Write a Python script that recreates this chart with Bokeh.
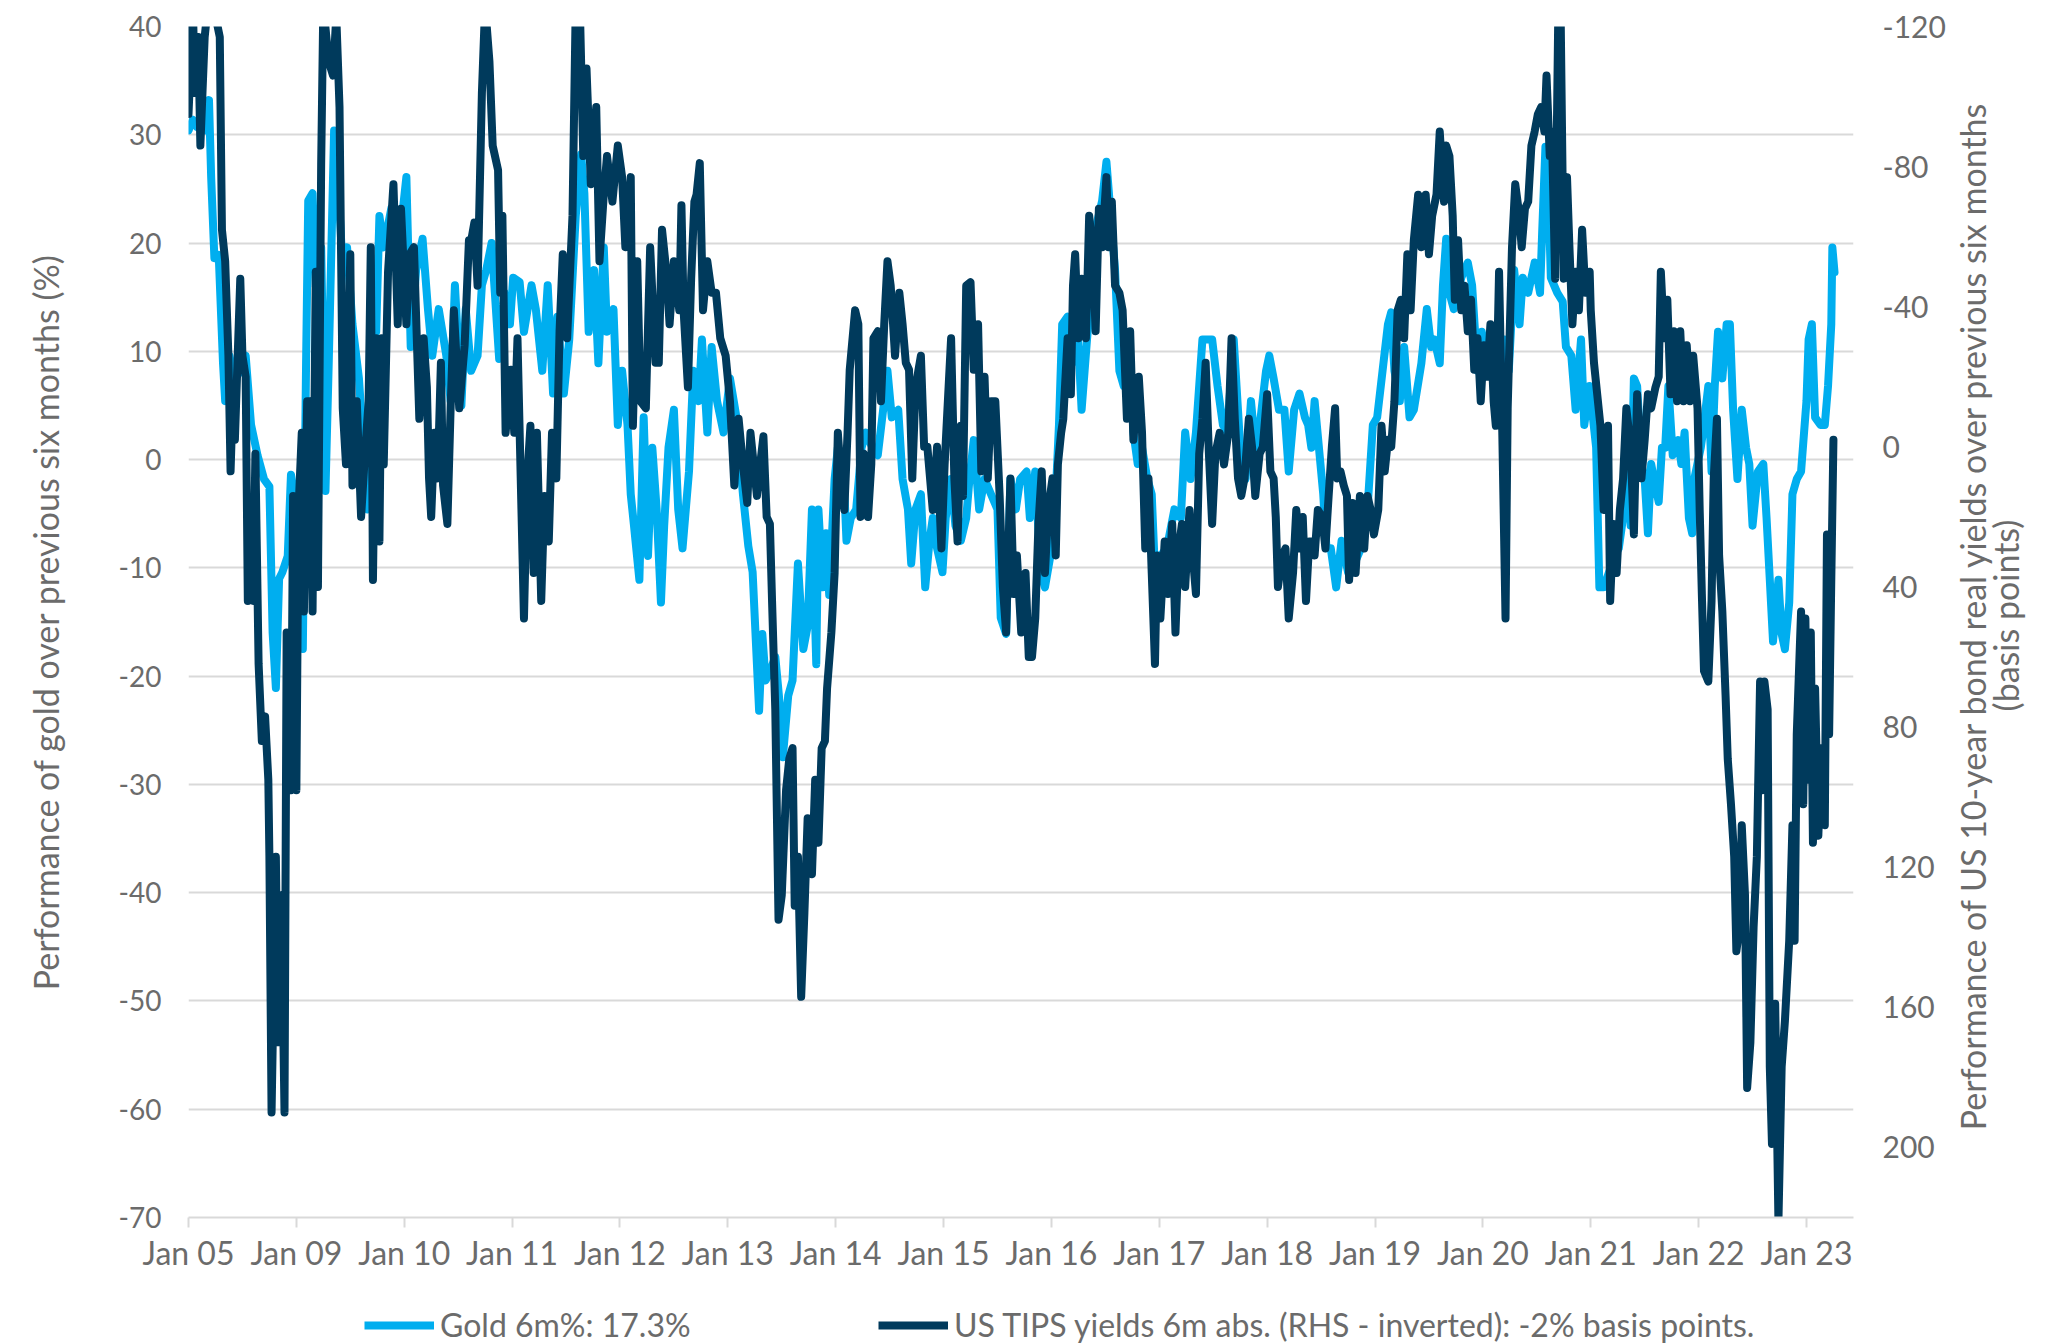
import math
from bokeh.plotting import figure
from bokeh.layouts import column, row
from bokeh.models import Range1d, LinearAxis, FixedTicker, Legend, LegendItem, Label
from bokeh.embed import file_html
from bokeh.resources import INLINE

# ---------------- data ----------------
x_tick_years = list(range(2008, 2024))
x_tick_labels = ["Jan 05", "Jan 09", "Jan 10", "Jan 11", "Jan 12", "Jan 13", "Jan 14", "Jan 15",
                 "Jan 16", "Jan 17", "Jan 18", "Jan 19", "Jan 20", "Jan 21", "Jan 22", "Jan 23"]
left_ticks = [-70, -60, -50, -40, -30, -20, -10, 0, 10, 20, 30, 40]
left_tick_labels = ["-70", "-60", "-50", "-40", "-30", "-20", "-10", "0", "10", "20", "30", "40"]
right_ticks = [-120, -80, -40, 0, 40, 80, 120, 160, 200]
right_tick_labels = ["-120", "-80", "-40", "0", "40", "80", "120", "160", "200"]

gold_years = [
    2008.00, 2008.04, 2008.08, 2008.15, 2008.19, 2008.21, 2008.24, 2008.28, 2008.32, 2008.34,
    2008.38, 2008.42, 2008.49, 2008.53, 2008.58, 2008.64, 2008.70, 2008.75, 2008.78, 2008.81,
    2008.84, 2008.87, 2008.92, 2008.95, 2008.98, 2009.03, 2009.06, 2009.09, 2009.11, 2009.15,
    2009.18, 2009.23, 2009.27, 2009.30, 2009.35, 2009.38, 2009.43, 2009.47, 2009.52, 2009.58,
    2009.66, 2009.69, 2009.74, 2009.77, 2009.81, 2009.88, 2009.95, 2010.02, 2010.06, 2010.11,
    2010.17, 2010.22, 2010.26, 2010.32, 2010.39, 2010.43, 2010.47, 2010.53, 2010.57, 2010.62,
    2010.68, 2010.72, 2010.76, 2010.81, 2010.84, 2010.88, 2010.93, 2010.98, 2011.01, 2011.07,
    2011.11, 2011.18, 2011.22, 2011.28, 2011.33, 2011.38, 2011.42, 2011.48, 2011.53, 2011.59,
    2011.64, 2011.67, 2011.71, 2011.76, 2011.80, 2011.85, 2011.88, 2011.94, 2011.98, 2012.02,
    2012.07, 2012.10, 2012.13, 2012.18, 2012.22, 2012.26, 2012.30, 2012.34, 2012.38, 2012.41,
    2012.45, 2012.50, 2012.54, 2012.58, 2012.64, 2012.68, 2012.73, 2012.76, 2012.81, 2012.85,
    2012.90, 2012.96, 2013.02, 2013.08, 2013.14, 2013.19, 2013.23, 2013.29, 2013.32, 2013.35,
    2013.39, 2013.44, 2013.48, 2013.51, 2013.56, 2013.60, 2013.65, 2013.70, 2013.74, 2013.78,
    2013.82, 2013.84, 2013.88, 2013.91, 2013.94, 2013.99, 2014.02, 2014.07, 2014.10, 2014.14,
    2014.19, 2014.24, 2014.28, 2014.34, 2014.39, 2014.44, 2014.48, 2014.52, 2014.58, 2014.62,
    2014.67, 2014.70, 2014.74, 2014.79, 2014.83, 2014.87, 2014.90, 2014.94, 2014.99, 2015.02,
    2015.07, 2015.11, 2015.16, 2015.21, 2015.24, 2015.28, 2015.33, 2015.38, 2015.44, 2015.50,
    2015.53, 2015.58, 2015.62, 2015.67, 2015.71, 2015.77, 2015.80, 2015.85, 2015.90, 2015.94,
    2015.99, 2016.04, 2016.07, 2016.10, 2016.15, 2016.19, 2016.24, 2016.28, 2016.33, 2016.38,
    2016.42, 2016.47, 2016.51, 2016.55, 2016.59, 2016.63, 2016.67, 2016.72, 2016.76, 2016.80,
    2016.84, 2016.89, 2016.93, 2016.96, 2017.01, 2017.07, 2017.14, 2017.20, 2017.24, 2017.29,
    2017.34, 2017.40, 2017.45, 2017.49, 2017.54, 2017.59, 2017.63, 2017.69, 2017.76, 2017.80,
    2017.85, 2017.89, 2017.94, 2017.99, 2018.02, 2018.06, 2018.11, 2018.16, 2018.20, 2018.25,
    2018.30, 2018.35, 2018.38, 2018.41, 2018.44, 2018.48, 2018.52, 2018.55, 2018.59, 2018.64,
    2018.69, 2018.75, 2018.81, 2018.87, 2018.93, 2018.98, 2019.02, 2019.07, 2019.12, 2019.15,
    2019.18, 2019.23, 2019.27, 2019.32, 2019.36, 2019.43, 2019.48, 2019.52, 2019.55, 2019.60,
    2019.63, 2019.66, 2019.69, 2019.73, 2019.80, 2019.86, 2019.90, 2019.95, 2019.99, 2020.04,
    2020.09, 2020.13, 2020.16, 2020.20, 2020.24, 2020.29, 2020.34, 2020.37, 2020.42, 2020.48,
    2020.53, 2020.55, 2020.58, 2020.61, 2020.63, 2020.69, 2020.74, 2020.77, 2020.82, 2020.86,
    2020.91, 2020.94, 2020.99, 2021.02, 2021.05, 2021.08, 2021.12, 2021.17, 2021.22, 2021.26,
    2021.31, 2021.34, 2021.37, 2021.40, 2021.43, 2021.47, 2021.50, 2021.53, 2021.56, 2021.60,
    2021.63, 2021.66, 2021.69, 2021.72, 2021.76, 2021.81, 2021.84, 2021.87, 2021.91, 2021.94,
    2021.96, 2022.02, 2022.04, 2022.09, 2022.12, 2022.15, 2022.18, 2022.22, 2022.26, 2022.29,
    2022.32, 2022.36, 2022.40, 2022.44, 2022.47, 2022.50, 2022.55, 2022.60, 2022.63, 2022.66,
    2022.69, 2022.74, 2022.77, 2022.80, 2022.84, 2022.87, 2022.91, 2022.95, 2023.00, 2023.02,
    2023.05, 2023.08, 2023.13, 2023.17, 2023.20, 2023.23, 2023.24, 2023.26,
]
gold_6m_pct = [
    30.4, 31.4, 30.7, 30.4, 33.2, 26.1, 18.6, 18.9, 8.9, 5.4,
    9.6, 7.5, 8.2, 9.6, 3.2, 0.4, -1.8, -2.5, -16.0, -21.1,
    -11.0, -10.4, -8.9, -1.4, -3.2, -8.9, -17.5, 8.9, 23.9, 24.6,
    16.0, 19.6, -2.9, 8.9, 30.4, 26.8, 17.5, 19.6, 12.5, 7.5,
    -4.6, 11.1, 11.8, 22.5, 19.6, 23.2, 19.6, 26.1, 10.4, 17.5,
    20.4, 13.9, 9.6, 13.9, 9.6, 5.4, 16.1, 5.0, 13.9, 8.2,
    9.6, 16.1, 17.5, 20.0, 15.4, 9.3, 15.4, 12.5, 16.8, 16.4,
    11.8, 16.1, 13.9, 8.2, 16.1, 6.1, 13.2, 6.1, 11.1, 22.5,
    28.2, 24.6, 11.8, 17.5, 8.9, 19.6, 11.8, 13.9, 3.2, 8.2,
    3.2, -3.2, -6.1, -11.1, 3.9, -8.9, 1.1, -4.6, -13.2, -6.1,
    1.1, 4.6, -4.6, -8.2, -1.1, 8.2, 5.4, 11.1, 2.5, 10.4,
    5.4, 2.5, 7.5, 3.9, -3.2, -8.0, -10.4, -23.2, -16.1, -20.4,
    -19.6, -18.2, -22.5, -27.5, -21.8, -20.4, -9.6, -17.5, -15.4, -4.6,
    -18.9, -4.6, -11.8, -6.8, -12.5, -1.8, 1.1, -0.4, -7.5, -5.4,
    -4.6, 1.1, 2.5, 1.1, 0.4, 4.6, 8.2, 3.9, 4.6, -1.8,
    -4.6, -9.6, -4.6, -3.2, -11.8, -7.5, -5.4, -8.2, -10.4, -5.4,
    -1.8, -6.1, -7.5, -5.4, -1.8, 1.8, -4.6, -1.8, -3.2, -4.6,
    -14.6, -16.1, -1.8, -4.6, -1.8, -1.1, -5.4, -1.1, -10.4, -11.8,
    -8.9, -3.2, 3.2, 12.5, 13.2, 8.9, 12.5, 4.6, 11.1, 16.8,
    21.8, 23.9, 27.5, 22.5, 17.5, 8.2, 6.8, 11.1, 2.5, -0.4,
    1.1, -1.8, -3.2, -10.4, -8.9, -8.2, -4.6, -5.4, 2.5, -1.8,
    2.5, 11.1, 11.1, 11.1, 6.8, 3.2, 2.5, 11.1, -0.4, -1.8,
    5.4, 1.1, 3.9, 8.2, 9.6, 7.5, 4.6, 4.6, -1.1, 4.6,
    6.1, 3.9, 3.2, 1.1, 5.4, 1.1, -3.2, -8.2, -8.2, -11.8,
    -7.5, -10.4, -9.6, -8.2, -4.6, 3.2, 3.9, 8.2, 12.5, 13.6,
    8.2, 5.4, 10.4, 3.9, 4.6, 8.9, 13.9, 10.4, 11.1, 8.9,
    16.1, 20.4, 15.4, 13.9, 16.8, 18.2, 16.1, 8.2, 11.8, 8.9,
    10.4, 7.5, 3.2, 11.1, 8.2, 17.5, 12.5, 16.8, 15.4, 18.2,
    15.4, 21.1, 28.9, 23.9, 16.8, 15.4, 14.6, 10.4, 9.6, 4.6,
    11.1, 3.2, 6.8, 3.9, 1.1, -11.8, -11.8, -10.4, -8.9, -8.2,
    -4.6, 1.1, -6.1, 7.5, 6.8, -0.4, -1.8, -6.8, -0.4, -2.5,
    -3.9, 1.1, 1.1, 6.8, 0.4, 1.8, -0.4, 2.5, -5.4, -6.8,
    -1.8, 1.1, 2.5, 6.8, -1.1, 6.8, 11.8, 7.5, 12.5, 12.5,
    4.6, -1.8, 4.6, 1.1, -0.4, -6.1, -1.1, -0.4, -5.4, -11.1,
    -16.8, -11.1, -16.1, -17.5, -13.2, -3.2, -1.8, -1.1, 5.4, 11.1,
    12.5, 3.9, 3.2, 3.2, 6.8, 12.5, 19.6, 17.3,
]

tips_years = [
    2008.00, 2008.02, 2008.04, 2008.06, 2008.09, 2008.11, 2008.15, 2008.18, 2008.25, 2008.29,
    2008.31, 2008.34, 2008.37, 2008.39, 2008.41, 2008.43, 2008.48, 2008.50, 2008.53, 2008.55,
    2008.57, 2008.60, 2008.62, 2008.65, 2008.68, 2008.71, 2008.74, 2008.75, 2008.77, 2008.81,
    2008.83, 2008.86, 2008.89, 2008.91, 2008.95, 2008.97, 2009.00, 2009.02, 2009.05, 2009.07,
    2009.10, 2009.13, 2009.15, 2009.18, 2009.20, 2009.23, 2009.25, 2009.30, 2009.34, 2009.37,
    2009.40, 2009.43, 2009.46, 2009.50, 2009.52, 2009.56, 2009.60, 2009.63, 2009.67, 2009.69,
    2009.71, 2009.74, 2009.77, 2009.79, 2009.81, 2009.85, 2009.90, 2009.94, 2009.97, 2010.02,
    2010.05, 2010.09, 2010.14, 2010.18, 2010.21, 2010.23, 2010.25, 2010.28, 2010.31, 2010.34,
    2010.36, 2010.40, 2010.43, 2010.46, 2010.51, 2010.56, 2010.60, 2010.61, 2010.65, 2010.68,
    2010.72, 2010.75, 2010.79, 2010.82, 2010.87, 2010.89, 2010.91, 2010.94, 2010.99, 2011.02,
    2011.05, 2011.08, 2011.11, 2011.14, 2011.17, 2011.20, 2011.23, 2011.27, 2011.30, 2011.34,
    2011.37, 2011.41, 2011.44, 2011.47, 2011.51, 2011.56, 2011.59, 2011.63, 2011.66, 2011.69,
    2011.73, 2011.78, 2011.81, 2011.85, 2011.88, 2011.93, 2011.98, 2012.02, 2012.05, 2012.10,
    2012.12, 2012.16, 2012.19, 2012.24, 2012.28, 2012.33, 2012.36, 2012.39, 2012.43, 2012.46,
    2012.50, 2012.55, 2012.57, 2012.59, 2012.63, 2012.66, 2012.69, 2012.71, 2012.74, 2012.77,
    2012.81, 2012.85, 2012.89, 2012.93, 2012.98, 2013.02, 2013.06, 2013.10, 2013.14, 2013.18,
    2013.21, 2013.24, 2013.27, 2013.30, 2013.33, 2013.36, 2013.39, 2013.41, 2013.44, 2013.47,
    2013.50, 2013.54, 2013.57, 2013.60, 2013.62, 2013.65, 2013.68, 2013.71, 2013.74, 2013.78,
    2013.81, 2013.84, 2013.87, 2013.90, 2013.92, 2013.96, 2013.99, 2014.02, 2014.05, 2014.08,
    2014.11, 2014.13, 2014.18, 2014.21, 2014.23, 2014.26, 2014.30, 2014.33, 2014.35, 2014.39,
    2014.42, 2014.45, 2014.48, 2014.51, 2014.55, 2014.59, 2014.62, 2014.65, 2014.68, 2014.71,
    2014.74, 2014.79, 2014.82, 2014.85, 2014.90, 2014.94, 2014.98, 2015.01, 2015.04, 2015.07,
    2015.10, 2015.13, 2015.16, 2015.18, 2015.21, 2015.25, 2015.28, 2015.32, 2015.35, 2015.38,
    2015.41, 2015.44, 2015.48, 2015.52, 2015.55, 2015.58, 2015.62, 2015.65, 2015.68, 2015.72,
    2015.76, 2015.79, 2015.82, 2015.85, 2015.88, 2015.91, 2015.94, 2015.97, 2016.01, 2016.04,
    2016.06, 2016.09, 2016.11, 2016.15, 2016.18, 2016.20, 2016.22, 2016.25, 2016.28, 2016.32,
    2016.35, 2016.38, 2016.41, 2016.44, 2016.47, 2016.51, 2016.53, 2016.56, 2016.59, 2016.63,
    2016.66, 2016.70, 2016.73, 2016.76, 2016.81, 2016.84, 2016.87, 2016.90, 2016.93, 2016.96,
    2016.98, 2017.01, 2017.05, 2017.08, 2017.12, 2017.15, 2017.18, 2017.21, 2017.24, 2017.28,
    2017.31, 2017.34, 2017.37, 2017.40, 2017.43, 2017.46, 2017.49, 2017.52, 2017.56, 2017.60,
    2017.64, 2017.67, 2017.70, 2017.73, 2017.76, 2017.79, 2017.83, 2017.86, 2017.89, 2017.93,
    2017.96, 2018.00, 2018.03, 2018.06, 2018.08, 2018.10, 2018.14, 2018.17, 2018.20, 2018.24,
    2018.27, 2018.30, 2018.33, 2018.36, 2018.39, 2018.41, 2018.44, 2018.47, 2018.51, 2018.54,
    2018.57, 2018.60, 2018.63, 2018.65, 2018.68, 2018.71, 2018.74, 2018.76, 2018.79, 2018.82,
    2018.86, 2018.90, 2018.93, 2018.96, 2018.99, 2019.03, 2019.06, 2019.09, 2019.12, 2019.15,
    2019.18, 2019.21, 2019.24, 2019.27, 2019.30, 2019.33, 2019.36, 2019.40, 2019.43, 2019.47,
    2019.50, 2019.53, 2019.57, 2019.60, 2019.64, 2019.66, 2019.69, 2019.72, 2019.74, 2019.77,
    2019.80, 2019.83, 2019.86, 2019.89, 2019.92, 2019.95, 2019.98, 2020.01, 2020.04, 2020.07,
    2020.10, 2020.12, 2020.15, 2020.18, 2020.21, 2020.23, 2020.27, 2020.30, 2020.33, 2020.36,
    2020.39, 2020.42, 2020.45, 2020.48, 2020.51, 2020.54, 2020.57, 2020.59, 2020.62, 2020.64,
    2020.67, 2020.69, 2020.70, 2020.72, 2020.75, 2020.78, 2020.80, 2020.83, 2020.86, 2020.89,
    2020.92, 2020.95, 2020.99, 2021.00, 2021.03, 2021.06, 2021.09, 2021.12, 2021.16, 2021.18,
    2021.21, 2021.24, 2021.27, 2021.30, 2021.33, 2021.37, 2021.40, 2021.43, 2021.47, 2021.50,
    2021.53, 2021.56, 2021.60, 2021.63, 2021.65, 2021.68, 2021.71, 2021.74, 2021.77, 2021.80,
    2021.83, 2021.86, 2021.89, 2021.92, 2021.95, 2021.99, 2022.01, 2022.03, 2022.05, 2022.09,
    2022.12, 2022.14, 2022.17, 2022.19, 2022.22, 2022.25, 2022.27, 2022.30, 2022.33, 2022.35,
    2022.38, 2022.40, 2022.43, 2022.45, 2022.48, 2022.51, 2022.54, 2022.57, 2022.59, 2022.61,
    2022.64, 2022.66, 2022.68, 2022.71, 2022.74, 2022.77, 2022.80, 2022.84, 2022.87, 2022.89,
    2022.91, 2022.95, 2022.97, 2022.99, 2023.01, 2023.04, 2023.06, 2023.08, 2023.11, 2023.14,
    2023.17, 2023.19, 2023.21, 2023.23, 2023.25,
]
tips_6m_bp = [
    -95, -110, -126, -101, -117, -86, -117, -126, -123, -117,
    -62, -53, -26, 7, -13, -2, -48, -26, -20, 44,
    18, 44, 2, 62, 84, 77, 95, 117, 190, 117,
    170, 128, 190, 53, 98, 14, 98, 18, -4, 47,
    -13, -13, 47, -50, 40, -81, -126, -110, -106, -123,
    -97, -11, 5, -55, 11, -13, 20, 5, -13, -57,
    38, -31, 27, -31, 5, -50, -75, -35, -68, -35,
    -55, -57, -8, -31, -17, 9, 20, -4, 9, -24,
    11, 22, -11, -39, -11, -29, -59, -57, -64, -46,
    -101, -126, -110, -86, -79, -44, -66, -4, -22, -4,
    -31, 9, 49, 9, -6, 36, -4, 44, 14, 27,
    -4, 9, -33, -55, -31, -66, -126, -123, -83, -108,
    -75, -97, -53, -72, -83, -70, -86, -77, -57, -77,
    -6, -53, -13, -11, -57, -24, -24, -62, -50, -35,
    -53, -39, -69, -39, -17, -48, -70, -72, -81, -39,
    -53, -44, -44, -31, -26, -13, 11, -8, 5, 16,
    -4, 5, 14, 5, -3, 20, 22, 44, 75, 135,
    128, 98, 89, 86, 131, 117, 157, 133, 106, 122,
    95, 113, 86, 84, 69, 53, 36, -4, 9, 18,
    -4, -22, -39, -35, 20, 2, 20, 5, -31, -33,
    -13, -35, -53, -46, -26, -44, -35, -24, -22, 9,
    -17, -26, 0, 0, 18, 0, 29, 5, -13, -31,
    9, 27, -6, 14, -46, -47, -22, -35, 7, -20,
    9, -13, -13, 14, 40, 53, 9, 42, 31, 53,
    36, 60, 60, 49, 22, 7, 36, 18, 9, 31,
    5, -4, -8, -31, -15, -46, -55, -31, -48, -31,
    -66, -57, -33, -68, -57, -77, -57, -70, -46, -44,
    -39, -8, -33, -2, -20, -4, 29, 9, 36, 62,
    31, 49, 27, 42, 22, 53, 29, 22, 40, 18,
    31, 42, 2, -8, -24, 2, 22, 2, -4, 5,
    -4, -31, -8, 9, 14, 9, -8, 0, 14, 2,
    0, -15, 7, 9, 20, 40, 31, 29, 49, 36,
    18, 29, 20, 44, 27, 27, 31, 18, 20, 29,
    14, 0, -11, 9, 7, 11, 14, 38, 16, 36,
    14, 29, 14, 18, 25, 18, -6, 7, -2, 0,
    -13, -39, -42, -31, -55, -39, -59, -72, -57, -72,
    -55, -66, -72, -90, -70, -86, -83, -66, -42, -59,
    -39, -46, -33, -42, -22, -31, -13, -29, -20, -35,
    -13, -6, -50, -4, 49, -11, -57, -75, -68, -57,
    -68, -70, -86, -90, -95, -97, -90, -106, -83, -90,
    -48, -101, -126, -126, -48, -77, -59, -35, -50, -39,
    -62, -44, -50, -39, -24, -15, -6, 18, -6, 44,
    22, 36, 18, 9, -11, 0, 25, -15, 9, -2,
    -15, -11, -17, -20, -50, -31, -42, -15, -33, -13,
    -33, -13, -29, -13, -26, -11, 18, 42, 64, 67,
    44, 9, -8, 31, 47, 71, 89, 102, 117, 144,
    137, 108, 128, 183, 170, 137, 117, 67, 98, 67,
    75, 177, 199, 159, 221, 177, 164, 141, 108, 141,
    82, 47, 102, 49, 95, 53, 113, 69, 111, 86,
    108, 25, 82, 38, -2,
]

left_title = "Performance of gold over previous six months (%)"
right_title_1 = "Performance of US 10-year bond real yields over previous six months"
right_title_2 = "(basis points)"
legend_labels = ["Gold 6m%: 17.3%", "US TIPS yields 6m abs. (RHS - inverted): -2% basis points."]

# ---------------- style ----------------
FONT = "Lato"
TXT = "#6b6b6b"
GRID = "#d9d9d9"
GOLD_C = "#00aeef"
TIPS_C = "#003a5c"
NAN = float("nan")

TOTAL_W = 2056
MAIN_W, MAIN_H = 1953, 1285
RIGHT_W = TOTAL_W - MAIN_W
LEG_H = 59
FRAME_TOP, FRAME_BOTTOM = 26, 1217

p = figure(width=MAIN_W, height=MAIN_H, output_backend="svg", toolbar_location=None,
           x_range=Range1d(2008.0, 2023.436), y_range=Range1d(-70, 40),
           min_border_left=188, min_border_right=MAIN_W - 1853, min_border_top=FRAME_TOP,
           min_border_bottom=MAIN_H - FRAME_BOTTOM)
p.extra_y_ranges = {"bp": Range1d(start=220, end=-120)}
p.outline_line_color = None

r_gold = p.line(gold_years, gold_6m_pct, line_color=GOLD_C, line_width=8,
                line_join="round", line_cap="round")
r_tips = p.line(tips_years, tips_6m_bp, y_range_name="bp", line_color=TIPS_C, line_width=8,
                line_join="round", line_cap="round")

# grid
p.xgrid.visible = False
p.ygrid.grid_line_color = GRID
p.ygrid.grid_line_width = 2
p.ygrid.ticker = FixedTicker(ticks=left_ticks)

# x axis
xa = p.xaxis[0]
xa.ticker = FixedTicker(ticks=x_tick_years)
xa.major_label_overrides = {yr: lab for yr, lab in zip(x_tick_years, x_tick_labels)}
xa.axis_line_color = GRID
xa.axis_line_width = 2
xa.major_tick_line_color = GRID
xa.major_tick_line_width = 2
xa.major_tick_out = 10
xa.major_tick_in = 0
xa.minor_tick_line_color = None
xa.major_label_standoff = 5
xa.major_label_text_font = FONT
xa.major_label_text_font_size = "32px"
xa.major_label_text_color = TXT

# left axis
ya = p.yaxis[0]
ya.ticker = FixedTicker(ticks=left_ticks)
ya.major_label_overrides = {t: lab for t, lab in zip(left_ticks, left_tick_labels)}
ya.axis_line_color = None
ya.major_tick_line_color = None
ya.major_tick_out = 0
ya.minor_tick_line_color = None
ya.major_label_standoff = 27
ya.major_label_text_font = FONT
ya.major_label_text_font_size = "28px"
ya.major_label_text_color = TXT
ya.axis_label = left_title
ya.axis_label_text_font = FONT
ya.axis_label_text_font_size = "34px"
ya.axis_label_text_font_style = "normal"
ya.axis_label_text_color = TXT
ya.axis_label_standoff = 50

# right axis (ticks)
ra = LinearAxis(y_range_name="bp", ticker=FixedTicker(ticks=right_ticks))
ra.major_label_overrides = {t: lab for t, lab in zip(right_ticks, right_tick_labels)}
ra.axis_line_color = None
ra.major_tick_line_color = None
ra.major_tick_out = 0
ra.minor_tick_line_color = None
ra.major_label_standoff = 29
ra.major_label_text_font = FONT
ra.major_label_text_font_size = "30px"
ra.major_label_text_color = TXT
p.add_layout(ra, "right")

# right-hand title (two lines, reading bottom to top); the row aligns this
# figure's frame with the main frame, so y is measured up from FRAME_BOTTOM
rfig = figure(width=RIGHT_W, height=MAIN_H, output_backend="svg", toolbar_location=None,
              x_axis_type=None, y_axis_type=None, min_border=0,
              x_range=Range1d(0, 1), y_range=Range1d(0, 1))
rfig.outline_line_color = None
for txt, sx in [(right_title_1, 19), (right_title_2, 52)]:
    rfig.add_layout(Label(x=sx, y=FRAME_BOTTOM - 615, x_units="screen", y_units="screen",
                          text=txt, angle=math.pi / 2, text_align="center",
                          text_baseline="middle", text_font=FONT, text_font_size="34px",
                          text_color=TXT))

# legend strip
lfig = figure(width=TOTAL_W, height=LEG_H, output_backend="svg", toolbar_location=None,
              x_axis_type=None, y_axis_type=None, min_border=0,
              x_range=Range1d(0, 1), y_range=Range1d(0, 1))
lfig.outline_line_color = None
lg_gold = lfig.line(x=[NAN], y=[NAN], line_color=GOLD_C, line_width=8)
lg_tips = lfig.line(x=[NAN], y=[NAN], line_color=TIPS_C, line_width=8)
leg = Legend(items=[LegendItem(label=legend_labels[0], renderers=[lg_gold]),
                    LegendItem(label=legend_labels[1], renderers=[lg_tips])],
             orientation="horizontal", location=(364, 0))
leg.border_line_color = None
leg.background_fill_alpha = 0
leg.padding = 0
leg.margin = 0
leg.spacing = 183
leg.glyph_width = 70
leg.glyph_height = 28
leg.label_height = 28
leg.label_width = 255
leg.label_standoff = 6
leg.label_text_font = FONT
leg.label_text_font_size = "32px"
leg.label_text_color = TXT
lfig.add_layout(leg, "center")

layout = column(row(p, rfig), lfig)
open("out.html", "w").write(file_html(layout, INLINE))
